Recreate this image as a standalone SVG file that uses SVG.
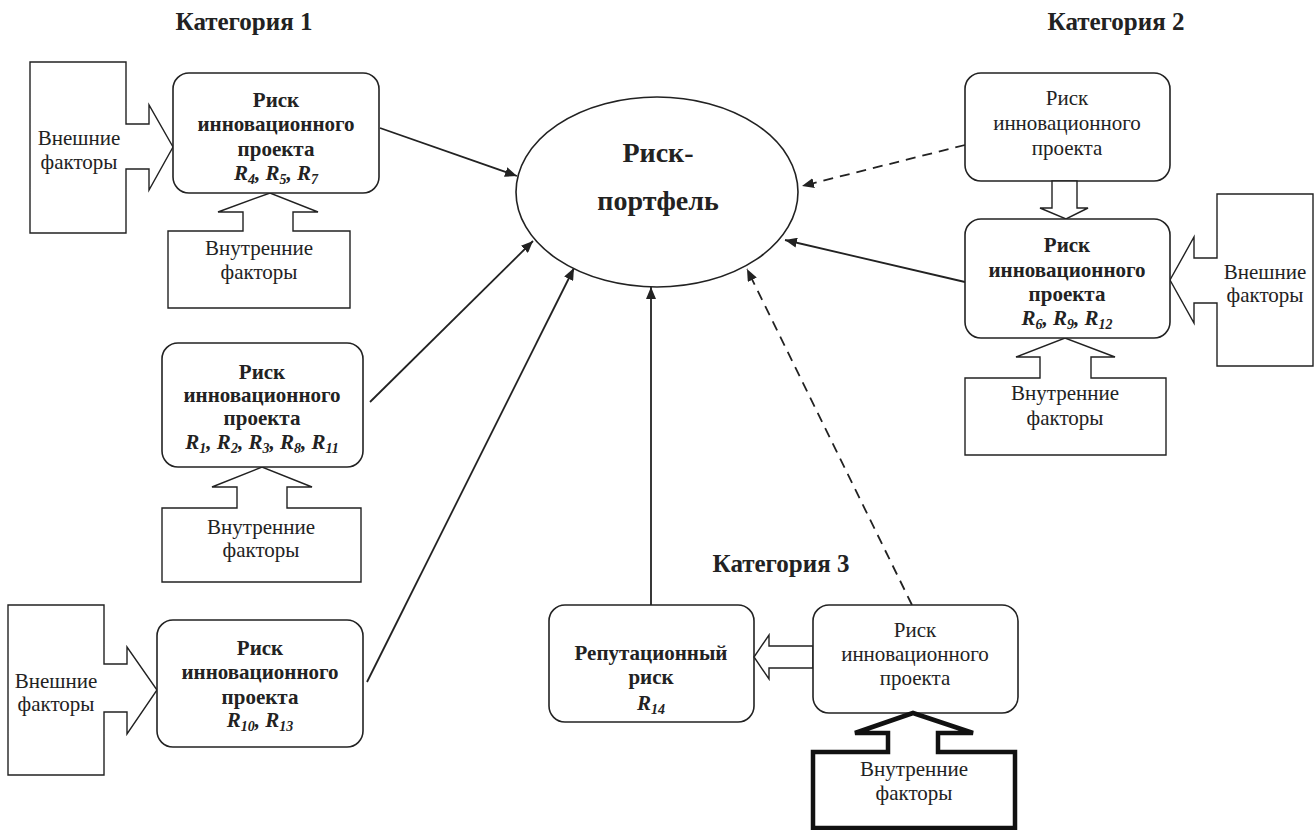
<svg xmlns="http://www.w3.org/2000/svg" width="1316" height="830" viewBox="0 0 1316 830">
<defs>
<style>
text{font-family:"Liberation Serif","Times New Roman",serif;fill:#222;text-anchor:middle}
.b{font-weight:bold;font-size:21px}
.n{font-size:21px}
.cat{font-weight:bold;font-size:25px}
.big{font-weight:bold;font-size:28px}
.r{font-weight:bold;font-style:italic;font-size:21px}
.sub{font-size:14px}
.box{fill:#fff;stroke:#222;stroke-width:1.6}
.fa{fill:#fff;stroke:#222;stroke-width:1.4;stroke-linejoin:miter}
.thick{fill:#fff;stroke:#111;stroke-width:4.5;stroke-linejoin:miter}
.c{stroke:#222;stroke-width:1.8;fill:none}
.d{stroke-dasharray:10 7}
</style>
<marker id="ah" viewBox="0 0 12 10" refX="12" refY="5" markerWidth="12" markerHeight="10" markerUnits="userSpaceOnUse" orient="auto">
<path d="M0,0 L12,5 L0,10 z" fill="#222"/>
</marker>
</defs>
<rect width="1316" height="830" fill="#fff"/>

<g id="labels">
<text class="cat" x="244" y="30">Категория 1</text>
<text class="cat" x="1116" y="30">Категория 2</text>
<text class="cat" x="781" y="572">Категория 3</text>
</g>

<g id="connectors">
<line class="c" x1="380" y1="128" x2="517" y2="176" marker-end="url(#ah)"/>
<line class="c" x1="370" y1="402" x2="533" y2="241" marker-end="url(#ah)"/>
<line class="c" x1="367" y1="682" x2="574" y2="268" marker-end="url(#ah)"/>
<line class="c" x1="651" y1="605" x2="651" y2="287" marker-end="url(#ah)"/>
<line class="c d" x1="912" y1="605" x2="747" y2="269" marker-end="url(#ah)"/>
<line class="c" x1="965" y1="282" x2="785" y2="240" marker-end="url(#ah)"/>
<line class="c d" x1="965" y1="145" x2="802" y2="186" marker-end="url(#ah)"/>
</g>

<g id="portfolio">
<ellipse class="box" cx="657" cy="192" rx="141" ry="95"/>
<text class="big" x="658" y="162">Риск-</text>
<text class="big" x="658" y="210">портфель</text>
</g>

<!-- Category 1 -->
<g id="ext1">
<polygon class="fa" points="30,62 126,62 126,124 149,124 149,105 173,147 149,190 149,169 126,169 126,233 30,233"/>
<text class="n" x="79" y="145">Внешние</text>
<text class="n" x="79" y="169">факторы</text>
</g>
<g id="int1">
<polygon class="fa" points="168,231 243,231 243,212 218,212 270,193 318,212 293,212 293,231 350,231 350,308 168,308"/>
<text class="n" x="259" y="255">Внутренние</text>
<text class="n" x="259" y="279">факторы</text>
</g>
<g id="risk1">
<rect class="box" x="173" y="73" width="206" height="120" rx="16"/>
<text class="b" x="276" y="107">Риск</text>
<text class="b" x="276" y="131">инновационного</text>
<text class="b" x="276" y="156">проекта</text>
<text class="r" x="276" y="180">R<tspan class="sub" dy="4">4</tspan><tspan dy="-4">, R</tspan><tspan class="sub" dy="4">5</tspan><tspan dy="-4">, R</tspan><tspan class="sub" dy="4">7</tspan></text>
</g>

<g id="int2">
<polygon class="fa" points="162,508 237,508 237,487 212,487 262,467 312,487 287,487 287,508 361,508 361,582 162,582"/>
<text class="n" x="261" y="534">Внутренние</text>
<text class="n" x="261" y="557">факторы</text>
</g>
<g id="risk2">
<rect class="box" x="162" y="343" width="201" height="124" rx="16"/>
<text class="b" x="262" y="379">Риск</text>
<text class="b" x="262" y="402">инновационного</text>
<text class="b" x="262" y="425">проекта</text>
<text class="r" x="262" y="449">R<tspan class="sub" dy="4">1</tspan><tspan dy="-4">, R</tspan><tspan class="sub" dy="4">2</tspan><tspan dy="-4">, R</tspan><tspan class="sub" dy="4">3</tspan><tspan dy="-4">, R</tspan><tspan class="sub" dy="4">8</tspan><tspan dy="-4">, R</tspan><tspan class="sub" dy="4">11</tspan></text>
</g>

<g id="ext3">
<polygon class="fa" points="8,605 104,605 104,664 127,664 127,647 157,690 127,734 127,712 104,712 104,775 8,775"/>
<text class="n" x="56" y="688">Внешние</text>
<text class="n" x="56" y="711">факторы</text>
</g>
<g id="risk3">
<rect class="box" x="157" y="620" width="206" height="127" rx="16"/>
<text class="b" x="260" y="655">Риск</text>
<text class="b" x="260" y="679">инновационного</text>
<text class="b" x="260" y="704">проекта</text>
<text class="r" x="260" y="727">R<tspan class="sub" dy="4">10</tspan><tspan dy="-4">, R</tspan><tspan class="sub" dy="4">13</tspan></text>
</g>

<!-- Category 2 -->
<g id="risk2a">
<rect class="box" x="965" y="73" width="205" height="108" rx="16"/>
<text class="n" x="1067" y="105">Риск</text>
<text class="n" x="1067" y="130">инновационного</text>
<text class="n" x="1067" y="155">проекта</text>
</g>
<g id="down2">
<polygon class="fa" points="1052,181 1077,181 1077,208 1088,208 1066,219 1040,208 1052,208"/>
</g>
<g id="ext2">
<polygon class="fa" points="1313,194 1217,194 1217,258 1194,258 1194,237 1170,280 1194,323 1194,303 1217,303 1217,366 1313,366"/>
<text class="n" x="1265" y="279">Внешние</text>
<text class="n" x="1265" y="302">факторы</text>
</g>
<g id="int2b">
<polygon class="fa" points="965,378 1040,378 1040,357 1016,357 1065,338 1115,357 1091,357 1091,378 1166,378 1166,455 965,455"/>
<text class="n" x="1065" y="400">Внутренние</text>
<text class="n" x="1065" y="425">факторы</text>
</g>
<g id="risk2b">
<rect class="box" x="965" y="219" width="205" height="119" rx="16"/>
<text class="b" x="1067" y="252">Риск</text>
<text class="b" x="1067" y="277">инновационного</text>
<text class="b" x="1067" y="301">проекта</text>
<text class="r" x="1067" y="325">R<tspan class="sub" dy="4">6</tspan><tspan dy="-4">, R</tspan><tspan class="sub" dy="4">9</tspan><tspan dy="-4">, R</tspan><tspan class="sub" dy="4">12</tspan></text>
</g>

<!-- Category 3 -->
<g id="reput">
<rect class="box" x="549" y="605" width="205" height="117" rx="16"/>
<text class="b" x="651" y="660">Репутационный</text>
<text class="b" x="651" y="684">риск</text>
<text class="r" x="651" y="710">R<tspan class="sub" dy="4">14</tspan></text>
</g>
<g id="left3">
<polygon class="fa" points="813,646 769,646 769,635 754,657 769,679 769,668 813,668"/>
</g>
<g id="risk3c">
<rect class="box" x="813" y="605" width="205" height="108" rx="16"/>
<text class="n" x="915" y="637">Риск</text>
<text class="n" x="915" y="661">инновационного</text>
<text class="n" x="915" y="685">проекта</text>
</g>
<g id="int3">
<polygon class="thick" points="813,752 888,752 888,733 855,733 913,713 973,733 938,733 938,752 1015,752 1015,828 813,828"/>
<text class="n" x="914" y="776">Внутренние</text>
<text class="n" x="914" y="800">факторы</text>
</g>
</svg>
